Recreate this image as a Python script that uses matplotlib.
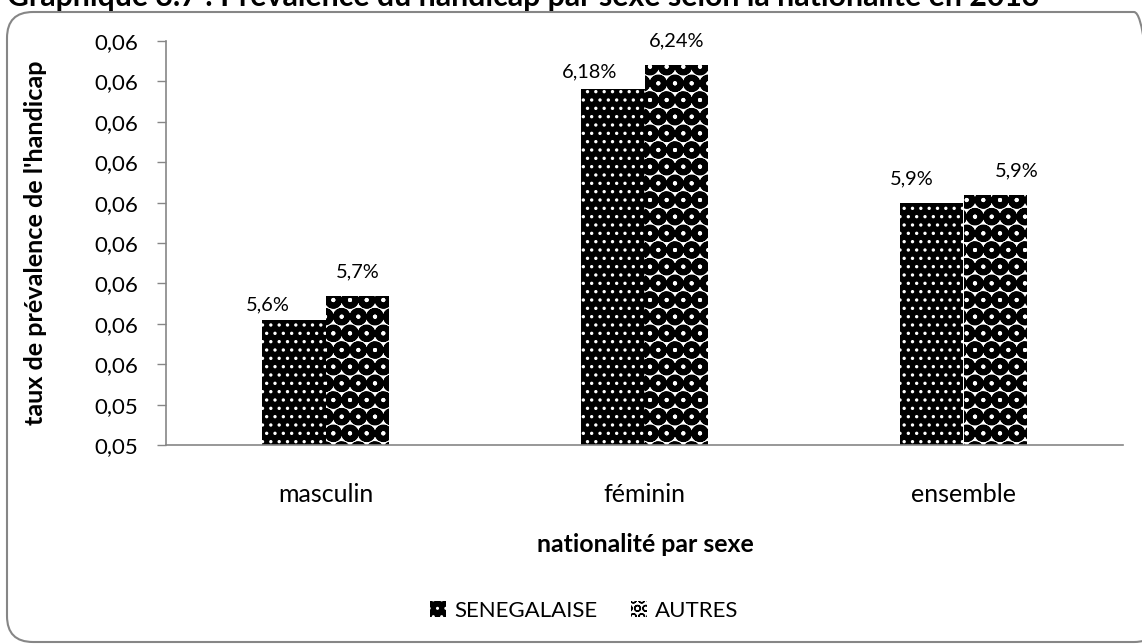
import numpy as np
import matplotlib
matplotlib.use("Agg")
import matplotlib.pyplot as plt
from matplotlib.patches import FancyBboxPatch, Patch
from matplotlib.ticker import FixedLocator, FuncFormatter

plt.rcParams['font.family'] = ['Lato', 'DejaVu Sans']

# Données
categories = ['masculin', 'féminin', 'ensemble']
series = ['SENEGALAISE', 'AUTRES']
senegalaise = [0.0561, 0.0618, 0.0590]
autres = [0.0567, 0.0624, 0.0592]
labels_sen = ['5,6%', '6,18%', '5,9%']
labels_aut = ['5,7%', '6,24%', '5,9%']
yticks = [0.053, 0.054, 0.055, 0.056, 0.057, 0.058, 0.059, 0.060, 0.061, 0.062, 0.063]

titre = "Graphique 3.7 : Prévalence du handicap par sexe selon la nationalité en 2013"

W, H = 1142, 644
fig = plt.figure(figsize=(W / 100, H / 100), dpi=100)

# cadre arrondi (coupé à droite), en pixels
cadre = FancyBboxPatch((7, 2), 1160 - 7, 632 - 2,
                       boxstyle="round,pad=0,rounding_size=26",
                       transform=None, facecolor='none',
                       edgecolor='#868686', linewidth=1.5, zorder=-1)
fig.patches.append(cadre)

fig.text(7 / W, 1 - 6 / H, titre, fontsize=21.8, fontweight='bold', ha='left', va='baseline')

ax = fig.add_axes([166 / W, 1 - 445 / H, (1123 - 166) / W, (445 - 41) / H])
ax.patch.set_alpha(0)
x = np.arange(len(categories))
w = 0.2

with plt.rc_context({'hatch.linewidth': 1.2, 'hatch.color': 'white'}):
    b1 = ax.bar(x - w / 2, senegalaise, w, color='black', edgecolor='white',
                linewidth=0, hatch='..', zorder=2)
with plt.rc_context({'hatch.linewidth': 4.2, 'hatch.color': 'black'}):
    b2 = ax.bar(x + w / 2, autres, w, color='white', edgecolor='black',
                linewidth=0, hatch='O', zorder=2)

# étiquettes de données (décalages en pixels)
dx_sen = [-26, -23, -20]
dy_sen = [15, 18, 24]
dx_aut = [0, 0, 21]
dy_aut = [24, 24, 24]
for i in range(len(categories)):
    ax.annotate(labels_sen[i], (x[i] - w / 2, senegalaise[i]),
                xytext=(dx_sen[i] * 0.72, dy_sen[i] * 0.72),
                textcoords='offset points', ha='center', va='center', fontsize=14.4)
    ax.annotate(labels_aut[i], (x[i] + w / 2, autres[i]),
                xytext=(dx_aut[i] * 0.72, dy_aut[i] * 0.72),
                textcoords='offset points', ha='center', va='center', fontsize=14.4)

ax.set_xlim(-0.5, 2.5)
ax.set_ylim(0.053, 0.063)
ax.yaxis.set_major_locator(FixedLocator(yticks))
ax.yaxis.set_major_formatter(FuncFormatter(lambda v, p: f"{round(v + 1e-9, 2):.2f}".replace('.', ',')))
ax.set_xticks(x)
ax.set_xticklabels(categories)
ax.tick_params(axis='y', length=6.5, width=1, color='#868686', labelsize=16, pad=13.5)
ax.tick_params(axis='x', length=0, labelsize=18, pad=27)

for s in ['top', 'right']:
    ax.spines[s].set_visible(False)
ax.spines['left'].set_color('#868686')
ax.spines['bottom'].set_color('#868686')
ax.spines['left'].set_linewidth(1.2)
ax.spines['bottom'].set_linewidth(1.2)

fig.text(36 / W, 1 - 243 / H, "taux de prévalence de l'handicap", rotation=90,
         fontsize=18.2, fontweight='bold', ha='center', va='center')
fig.text(645 / W, 1 - 545 / H, "nationalité par sexe", fontsize=17.9,
         fontweight='bold', ha='center', va='center')

with plt.rc_context({'hatch.linewidth': 1.2}):
    h1 = Patch(facecolor='black', edgecolor='white', hatch='..', linewidth=0)
with plt.rc_context({'hatch.linewidth': 2.5}):
    h2 = Patch(facecolor='white', edgecolor='black', hatch='OO', linewidth=0)
fig.legend([h1, h2], series, loc='center', bbox_to_anchor=(584 / W, 1 - 611 / H),
           ncol=2, frameon=False, fontsize=16, handlelength=0.75, handleheight=0.75,
           handletextpad=0.35, columnspacing=1.5)

fig.savefig('out.png', dpi=100)
